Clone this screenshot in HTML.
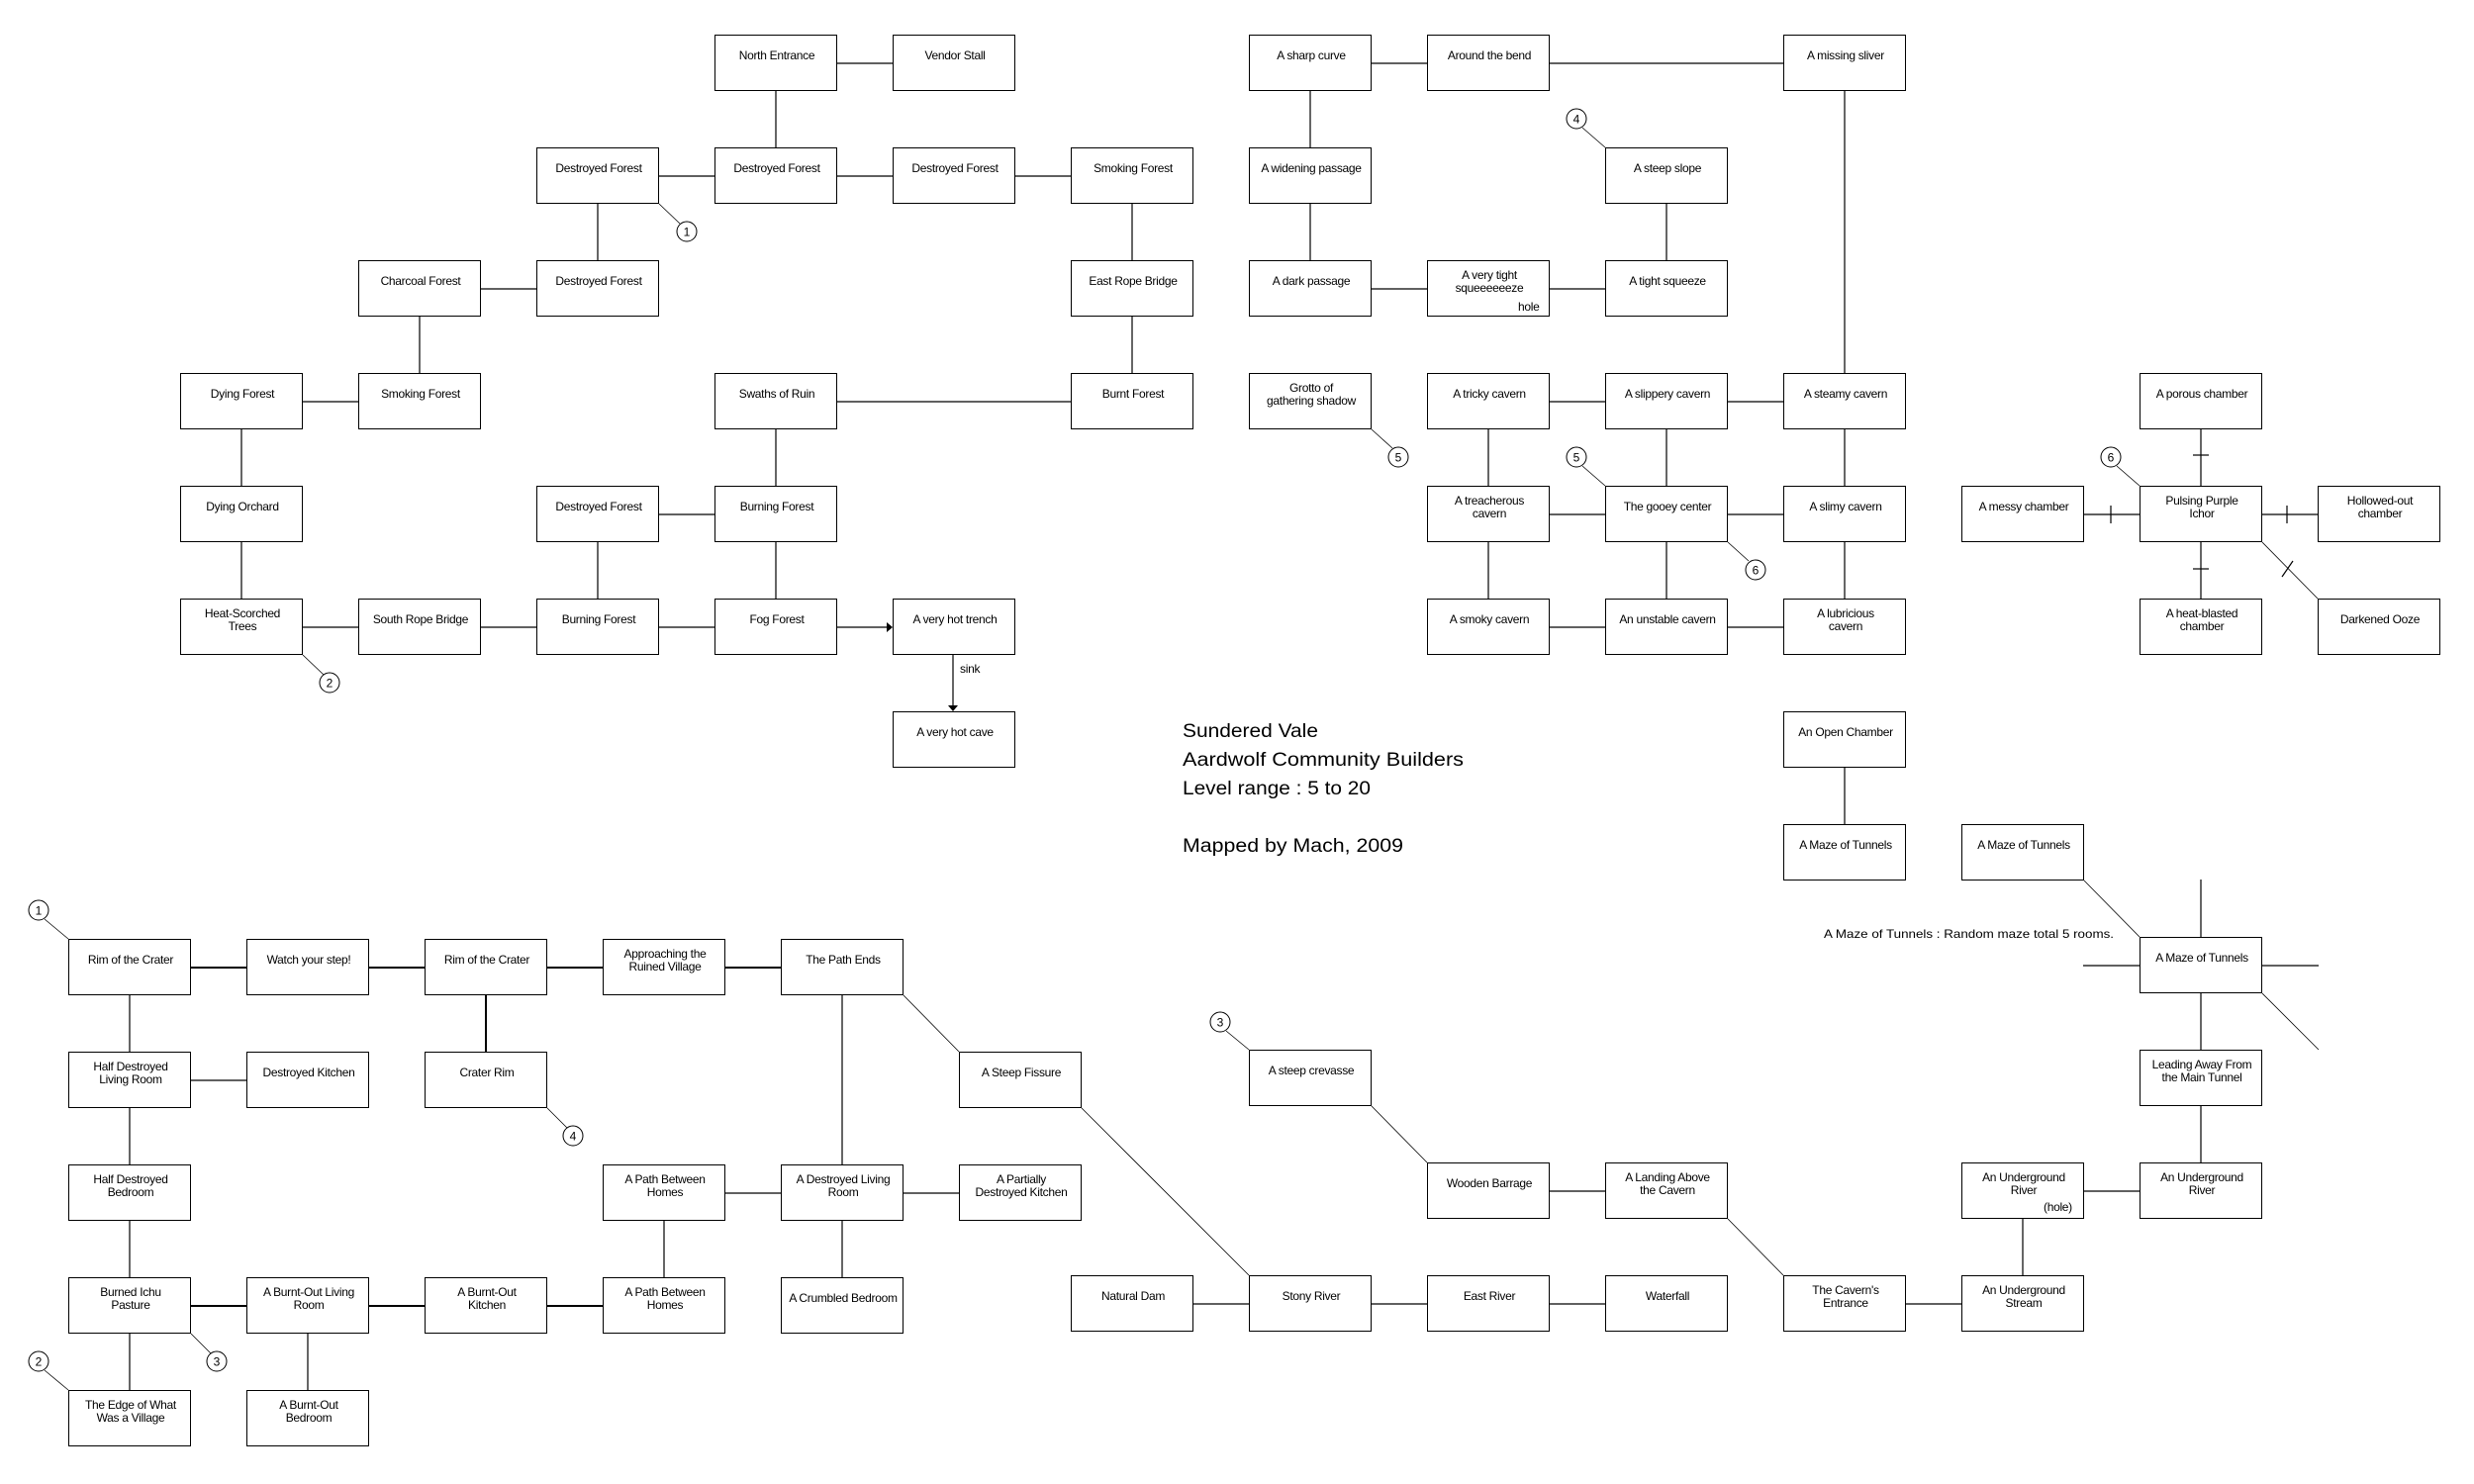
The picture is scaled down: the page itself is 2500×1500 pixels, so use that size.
<!DOCTYPE html>
<html><head><meta charset="utf-8">
<style>
html,body{margin:0;padding:0;background:#fff;}
#c{position:relative;width:2500px;height:1500px;overflow:hidden;background:#fff;font-family:"Liberation Sans",Arial,sans-serif;}
.b{position:absolute;width:124px;height:57px;box-sizing:border-box;border:1.3px solid #000;background:#fff;}
.b span{position:absolute;left:0;top:0;width:124px;height:41px;display:flex;align-items:center;justify-content:center;text-align:center;font-size:12px;line-height:13px;letter-spacing:-0.3px;color:#000;}
.lbl{position:absolute;font-size:12px;letter-spacing:-0.3px;color:#000;line-height:13px;}
svg{position:absolute;left:0;top:0;}
</style></head><body><div id="c">
<svg width="2500" height="1500" viewBox="0 0 2500 1500">
<g stroke="#000" stroke-width="1.2" fill="none">
<!-- top-left -->
<line x1="846" y1="64" x2="902" y2="64"/>
<line x1="784" y1="92" x2="784" y2="149"/>
<line x1="666" y1="178" x2="722" y2="178"/>
<line x1="846" y1="178" x2="902" y2="178"/>
<line x1="1026" y1="178" x2="1082" y2="178"/>
<line x1="604" y1="206" x2="604" y2="263"/>
<line x1="486" y1="292" x2="542" y2="292"/>
<line x1="424" y1="320" x2="424" y2="377"/>
<line x1="306" y1="406" x2="362" y2="406"/>
<line x1="244" y1="434" x2="244" y2="491"/>
<line x1="244" y1="548" x2="244" y2="605"/>
<line x1="306" y1="634" x2="362" y2="634"/>
<line x1="486" y1="634" x2="542" y2="634"/>
<line x1="604" y1="548" x2="604" y2="605"/>
<line x1="666" y1="520" x2="722" y2="520"/>
<line x1="784" y1="434" x2="784" y2="491"/>
<line x1="784" y1="548" x2="784" y2="605"/>
<line x1="666" y1="634" x2="722" y2="634"/>
<line x1="846" y1="634" x2="896" y2="634"/>
<line x1="846" y1="406" x2="1082" y2="406"/>
<line x1="1144" y1="320" x2="1144" y2="377"/>
<line x1="1144" y1="206" x2="1144" y2="263"/>
<line x1="963" y1="662" x2="963" y2="713"/>
<line x1="666" y1="206" x2="687" y2="226" stroke-width="0.8"/>
<line x1="306" y1="662" x2="327" y2="682" stroke-width="0.8"/>
<!-- top-right -->
<line x1="1386" y1="64" x2="1442" y2="64"/>
<line x1="1566" y1="64" x2="1802" y2="64"/>
<line x1="1324" y1="92" x2="1324" y2="149"/>
<line x1="1324" y1="206" x2="1324" y2="263"/>
<line x1="1386" y1="292" x2="1442" y2="292"/>
<line x1="1566" y1="292" x2="1622" y2="292"/>
<line x1="1684" y1="206" x2="1684" y2="263"/>
<line x1="1864" y1="92" x2="1864" y2="377"/>
<line x1="1566" y1="406" x2="1622" y2="406"/>
<line x1="1746" y1="406" x2="1802" y2="406"/>
<line x1="1504" y1="434" x2="1504" y2="491"/>
<line x1="1684" y1="434" x2="1684" y2="491"/>
<line x1="1864" y1="434" x2="1864" y2="491"/>
<line x1="1566" y1="520" x2="1622" y2="520"/>
<line x1="1746" y1="520" x2="1802" y2="520"/>
<line x1="1504" y1="548" x2="1504" y2="605"/>
<line x1="1684" y1="548" x2="1684" y2="605"/>
<line x1="1864" y1="548" x2="1864" y2="605"/>
<line x1="1566" y1="634" x2="1622" y2="634"/>
<line x1="1746" y1="634" x2="1802" y2="634"/>
<line x1="1599" y1="129" x2="1622" y2="149" stroke-width="0.8"/>
<line x1="1386" y1="434" x2="1407" y2="453" stroke-width="0.8"/>
<line x1="1599" y1="471" x2="1622" y2="491" stroke-width="0.8"/>
<line x1="1746" y1="548" x2="1767" y2="567" stroke-width="0.8"/>
<line x1="2139" y1="471" x2="2162" y2="491" stroke-width="0.8"/>
<!-- pulsing -->
<line x1="2224" y1="434" x2="2224" y2="491"/>
<line x1="2216" y1="460" x2="2232" y2="460"/>
<line x1="2106" y1="520" x2="2162" y2="520"/>
<line x1="2133" y1="511" x2="2133" y2="529"/>
<line x1="2286" y1="520" x2="2342" y2="520"/>
<line x1="2311" y1="511" x2="2311" y2="529"/>
<line x1="2224" y1="548" x2="2224" y2="605"/>
<line x1="2216" y1="575" x2="2232" y2="575"/>
<line x1="2286" y1="548" x2="2342" y2="605" stroke-width="0.8"/>
<line x1="2317" y1="567" x2="2306" y2="583"/>
<!-- maze -->
<line x1="1864" y1="776" x2="1864" y2="833"/>
<line x1="2106" y1="890" x2="2162" y2="947" stroke-width="0.8"/>
<line x1="2224" y1="889" x2="2224" y2="947"/>
<line x1="2105" y1="976" x2="2162" y2="976"/>
<line x1="2286" y1="976" x2="2343" y2="976"/>
<line x1="2286" y1="1004" x2="2343" y2="1061" stroke-width="0.8"/>
<line x1="2224" y1="1004" x2="2224" y2="1061"/>
<line x1="2224" y1="1118" x2="2224" y2="1175"/>
<line x1="2106" y1="1204" x2="2162" y2="1204"/>
<line x1="2044" y1="1232" x2="2044" y2="1289"/>
<line x1="1926" y1="1318" x2="1982" y2="1318"/>
<line x1="1746" y1="1232" x2="1802" y2="1289" stroke-width="0.8"/>
<line x1="1386" y1="1118" x2="1442" y2="1175" stroke-width="0.8"/>
<line x1="1566" y1="1204" x2="1622" y2="1204"/>
<line x1="1206" y1="1318" x2="1262" y2="1318"/>
<line x1="1386" y1="1318" x2="1442" y2="1318"/>
<line x1="1566" y1="1318" x2="1622" y2="1318"/>
<line x1="1239" y1="1042" x2="1262" y2="1061" stroke-width="0.8"/>
<!-- bottom-left -->
<g stroke-width="2">
<line x1="193" y1="978" x2="249" y2="978"/>
<line x1="373" y1="978" x2="429" y2="978"/>
<line x1="553" y1="978" x2="609" y2="978"/>
<line x1="733" y1="978" x2="789" y2="978"/>
<line x1="193" y1="1320" x2="249" y2="1320"/>
<line x1="373" y1="1320" x2="429" y2="1320"/>
<line x1="553" y1="1320" x2="609" y2="1320"/>
<line x1="491" y1="1006" x2="491" y2="1063"/>
</g>
<line x1="131" y1="1006" x2="131" y2="1063"/>
<line x1="193" y1="1092" x2="249" y2="1092"/>
<line x1="131" y1="1120" x2="131" y2="1177"/>
<line x1="131" y1="1234" x2="131" y2="1291"/>
<line x1="671" y1="1234" x2="671" y2="1291"/>
<line x1="733" y1="1206" x2="789" y2="1206"/>
<line x1="913" y1="1206" x2="969" y2="1206"/>
<line x1="851" y1="1234" x2="851" y2="1291"/>
<line x1="851" y1="1006" x2="851" y2="1177"/>
<line x1="913" y1="1006" x2="969" y2="1063" stroke-width="0.8"/>
<line x1="1093" y1="1120" x2="1262" y2="1289" stroke-width="0.8"/>
<line x1="131" y1="1348" x2="131" y2="1405"/>
<line x1="311" y1="1348" x2="311" y2="1405"/>
<line x1="45" y1="929" x2="69" y2="949" stroke-width="0.8"/>
<line x1="553" y1="1120" x2="573" y2="1140" stroke-width="0.8"/>
<line x1="45" y1="1385" x2="69" y2="1405" stroke-width="0.8"/>
<line x1="193" y1="1348" x2="213" y2="1368" stroke-width="0.8"/>
</g>
<polygon points="896,629 902,634 896,639" fill="#000"/>
<polygon points="958,713 968,713 963,719" fill="#000"/>
<g stroke="#000" stroke-width="1" fill="#fff">
<ellipse cx="694" cy="234" rx="10" ry="10"/>
<ellipse cx="333" cy="690" rx="10" ry="10"/>
<ellipse cx="1593" cy="120" rx="10" ry="10"/>
<ellipse cx="1413" cy="462" rx="10" ry="10"/>
<ellipse cx="1593" cy="462" rx="10" ry="10"/>
<ellipse cx="1774" cy="576" rx="10" ry="10"/>
<ellipse cx="2133" cy="462" rx="10" ry="10"/>
<ellipse cx="39" cy="920" rx="10" ry="10"/>
<ellipse cx="579" cy="1148" rx="10" ry="10"/>
<ellipse cx="39" cy="1376" rx="10" ry="10"/>
<ellipse cx="219" cy="1376" rx="10" ry="10"/>
<ellipse cx="1233" cy="1033" rx="10" ry="10"/>
</g>
<g font-family="Liberation Sans, Arial, sans-serif" font-size="12" text-anchor="middle" fill="#000">
<text x="694" y="238.5">1</text>
<text x="333" y="694.5">2</text>
<text x="1593" y="124.5">4</text>
<text x="1413" y="466.5">5</text>
<text x="1593" y="466.5">5</text>
<text x="1774" y="580.5">6</text>
<text x="2133" y="466.5">6</text>
<text x="39" y="924.5">1</text>
<text x="579" y="1152.5">4</text>
<text x="39" y="1380.5">2</text>
<text x="219" y="1380.5">3</text>
<text x="1233" y="1037.5">3</text>
</g>
<g font-family="Liberation Sans, Arial, sans-serif" font-size="19" fill="#000">
<text x="1195" y="745" textLength="137" lengthAdjust="spacingAndGlyphs">Sundered Vale</text>
<text x="1195" y="774" textLength="284" lengthAdjust="spacingAndGlyphs">Aardwolf Community Builders</text>
<text x="1195" y="803" textLength="190" lengthAdjust="spacingAndGlyphs">Level range : 5 to 20</text>
<text x="1195" y="861" textLength="223" lengthAdjust="spacingAndGlyphs">Mapped by Mach, 2009</text>
</g>
<text x="1843" y="948" font-family="Liberation Sans, Arial, sans-serif" font-size="12" textLength="293" lengthAdjust="spacingAndGlyphs">A Maze of Tunnels : Random maze total 5 rooms.</text>
</svg>

<!-- top-left -->
<div class="b" style="left:722px;top:35px"><span>North Entrance</span></div>
<div class="b" style="left:902px;top:35px"><span>Vendor Stall</span></div>
<div class="b" style="left:542px;top:149px"><span>Destroyed Forest</span></div>
<div class="b" style="left:722px;top:149px"><span>Destroyed Forest</span></div>
<div class="b" style="left:902px;top:149px"><span>Destroyed Forest</span></div>
<div class="b" style="left:1082px;top:149px"><span>Smoking Forest</span></div>
<div class="b" style="left:362px;top:263px"><span>Charcoal Forest</span></div>
<div class="b" style="left:542px;top:263px"><span>Destroyed Forest</span></div>
<div class="b" style="left:1082px;top:263px"><span>East Rope Bridge</span></div>
<div class="b" style="left:182px;top:377px"><span>Dying Forest</span></div>
<div class="b" style="left:362px;top:377px"><span>Smoking Forest</span></div>
<div class="b" style="left:722px;top:377px"><span>Swaths of Ruin</span></div>
<div class="b" style="left:1082px;top:377px"><span>Burnt Forest</span></div>
<div class="b" style="left:182px;top:491px"><span>Dying Orchard</span></div>
<div class="b" style="left:542px;top:491px"><span>Destroyed Forest</span></div>
<div class="b" style="left:722px;top:491px"><span>Burning Forest</span></div>
<div class="b" style="left:182px;top:605px"><span>Heat-Scorched<br>Trees</span></div>
<div class="b" style="left:362px;top:605px"><span>South Rope Bridge</span></div>
<div class="b" style="left:542px;top:605px"><span>Burning Forest</span></div>
<div class="b" style="left:722px;top:605px"><span>Fog Forest</span></div>
<div class="b" style="left:902px;top:605px"><span>A very hot trench</span></div>
<div class="b" style="left:902px;top:719px"><span>A very hot cave</span></div>
<div class="lbl" style="left:970px;top:670px">sink</div>

<!-- top-right -->
<div class="b" style="left:1262px;top:35px"><span>A sharp curve</span></div>
<div class="b" style="left:1442px;top:35px"><span>Around the bend</span></div>
<div class="b" style="left:1802px;top:35px"><span>A missing sliver</span></div>
<div class="b" style="left:1262px;top:149px"><span>A widening passage</span></div>
<div class="b" style="left:1622px;top:149px"><span>A steep slope</span></div>
<div class="b" style="left:1262px;top:263px"><span>A dark passage</span></div>
<div class="b" style="left:1442px;top:263px"><span>A very tight<br>squeeeeeeze</span></div>
<div class="lbl" style="left:1534px;top:304px">hole</div>
<div class="b" style="left:1622px;top:263px"><span>A tight squeeze</span></div>
<div class="b" style="left:1262px;top:377px"><span>Grotto of<br>gathering shadow</span></div>
<div class="b" style="left:1442px;top:377px"><span>A tricky cavern</span></div>
<div class="b" style="left:1622px;top:377px"><span>A slippery cavern</span></div>
<div class="b" style="left:1802px;top:377px"><span>A steamy cavern</span></div>
<div class="b" style="left:2162px;top:377px"><span>A porous chamber</span></div>
<div class="b" style="left:1442px;top:491px"><span>A treacherous<br>cavern</span></div>
<div class="b" style="left:1622px;top:491px"><span>The gooey center</span></div>
<div class="b" style="left:1802px;top:491px"><span>A slimy cavern</span></div>
<div class="b" style="left:1982px;top:491px"><span>A messy chamber</span></div>
<div class="b" style="left:2162px;top:491px"><span>Pulsing Purple<br>Ichor</span></div>
<div class="b" style="left:2342px;top:491px"><span>Hollowed-out<br>chamber</span></div>
<div class="b" style="left:1442px;top:605px"><span>A smoky cavern</span></div>
<div class="b" style="left:1622px;top:605px"><span>An unstable cavern</span></div>
<div class="b" style="left:1802px;top:605px"><span>A lubricious<br>cavern</span></div>
<div class="b" style="left:2162px;top:605px"><span>A heat-blasted<br>chamber</span></div>
<div class="b" style="left:2342px;top:605px"><span>Darkened Ooze</span></div>
<div class="b" style="left:1802px;top:719px"><span>An Open Chamber</span></div>
<div class="b" style="left:1802px;top:833px"><span>A Maze of Tunnels</span></div>
<div class="b" style="left:1982px;top:833px"><span>A Maze of Tunnels</span></div>
<div class="b" style="left:2162px;top:947px"><span>A Maze of Tunnels</span></div>
<div class="b" style="left:2162px;top:1061px"><span>Leading Away From<br>the Main Tunnel</span></div>
<div class="b" style="left:1982px;top:1175px"><span>An Underground<br>River</span></div>
<div class="lbl" style="left:2065px;top:1214px">(hole)</div>
<div class="b" style="left:2162px;top:1175px"><span>An Underground<br>River</span></div>
<div class="b" style="left:1262px;top:1061px"><span>A steep crevasse</span></div>
<div class="b" style="left:1442px;top:1175px"><span>Wooden Barrage</span></div>
<div class="b" style="left:1622px;top:1175px"><span>A Landing Above<br>the Cavern</span></div>
<div class="b" style="left:1082px;top:1289px"><span>Natural Dam</span></div>
<div class="b" style="left:1262px;top:1289px"><span>Stony River</span></div>
<div class="b" style="left:1442px;top:1289px"><span>East River</span></div>
<div class="b" style="left:1622px;top:1289px"><span>Waterfall</span></div>
<div class="b" style="left:1802px;top:1289px"><span>The Cavern's<br>Entrance</span></div>
<div class="b" style="left:1982px;top:1289px"><span>An Underground<br>Stream</span></div>

<!-- bottom-left -->
<div class="b" style="left:69px;top:949px"><span>Rim of the Crater</span></div>
<div class="b" style="left:249px;top:949px"><span>Watch your step!</span></div>
<div class="b" style="left:429px;top:949px"><span>Rim of the Crater</span></div>
<div class="b" style="left:609px;top:949px"><span>Approaching the<br>Ruined Village</span></div>
<div class="b" style="left:789px;top:949px"><span>The Path Ends</span></div>
<div class="b" style="left:69px;top:1063px"><span>Half Destroyed<br>Living Room</span></div>
<div class="b" style="left:249px;top:1063px"><span>Destroyed Kitchen</span></div>
<div class="b" style="left:429px;top:1063px"><span>Crater Rim</span></div>
<div class="b" style="left:969px;top:1063px"><span>A Steep Fissure</span></div>
<div class="b" style="left:69px;top:1177px"><span>Half Destroyed<br>Bedroom</span></div>
<div class="b" style="left:609px;top:1177px"><span>A Path Between<br>Homes</span></div>
<div class="b" style="left:789px;top:1177px"><span>A Destroyed Living<br>Room</span></div>
<div class="b" style="left:969px;top:1177px"><span>A Partially<br>Destroyed Kitchen</span></div>
<div class="b" style="left:69px;top:1291px"><span>Burned Ichu<br>Pasture</span></div>
<div class="b" style="left:249px;top:1291px"><span>A Burnt-Out Living<br>Room</span></div>
<div class="b" style="left:429px;top:1291px"><span>A Burnt-Out<br>Kitchen</span></div>
<div class="b" style="left:609px;top:1291px"><span>A Path Between<br>Homes</span></div>
<div class="b" style="left:789px;top:1291px"><span>A Crumbled Bedroom</span></div>
<div class="b" style="left:69px;top:1405px"><span>The Edge of What<br>Was a Village</span></div>
<div class="b" style="left:249px;top:1405px"><span>A Burnt-Out<br>Bedroom</span></div>
</div></body></html>
